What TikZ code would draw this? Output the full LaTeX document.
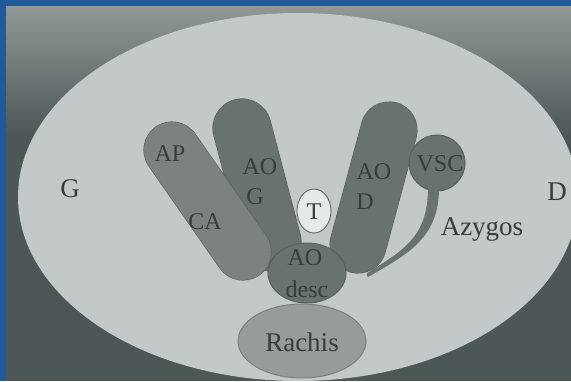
\documentclass[tikz,border=0pt]{standalone}
\usepackage{fontspec}
\setmainfont{Liberation Serif}
\usepackage{xcolor}

\definecolor{frameblue}{RGB}{31,90,154}
\definecolor{photodark}{RGB}{78,87,87}
\definecolor{photolight}{RGB}{145,152,152}
\definecolor{thorax}{RGB}{195,200,200}
\definecolor{vessel}{RGB}{106,113,113}
\definecolor{artery}{RGB}{124,130,130}
\definecolor{spine}{RGB}{150,156,156}
\definecolor{trachea}{RGB}{230,233,233}
\definecolor{rim}{RGB}{90,96,96}
\definecolor{ink}{RGB}{55,60,60}

% rounded tube between two coordinates: colour, width, from, to
\newcommand{\tube}[4]{%
  \draw[line cap=round, rim, line width=#2pt+1.2pt] (#3) -- (#4);
  \draw[line cap=round, #1, line width=#2pt] (#3) -- (#4);}

\begin{document}
\begin{tikzpicture}[
  x=1pt, y=-1pt,
  lab/.style={text=ink, inner sep=0pt, font=\fontsize{24}{26}\selectfont},
  big/.style={lab, font=\fontsize{27}{30}\selectfont},
  organ/.style={fill=vessel, draw=rim, line width=1pt}
]
\useasboundingbox (0,0) rectangle (571,381);
\begin{scope}
\clip (0,0) rectangle (571,381);
\fill[frameblue] (0,0) rectangle (571,381);
\fill[photodark] (6,6) rectangle (571,381);
\shade[top color=photolight, bottom color=photodark] (6,6) rectangle (571,135);

\fill[thorax] (298,197) ellipse [x radius=280pt, y radius=184pt];

\coordinate (aogTop) at (242,128);
\coordinate (aogBot) at (272,242);
\coordinate (apTop) at (172,150);
\coordinate (apBot) at (243,252);
\coordinate (aodTop) at (389,130);
\coordinate (aodBot) at (358,245);

\tube{vessel}{58}{aogTop}{aogBot}
\tube{artery}{56}{apTop}{apBot}
\tube{vessel}{56}{aodTop}{aodBot}

\filldraw[fill=spine, draw=rim!80, line width=1pt] (302,341) ellipse [x radius=64pt, y radius=37pt];
\filldraw[organ] (307,273) ellipse [x radius=39pt, y radius=30pt];
\filldraw[fill=trachea, draw=rim!90, line width=1pt] (314,211) ellipse [x radius=17pt, y radius=22pt];
\filldraw[organ] (437,163) circle [radius=28pt];
\fill[vessel] (439,188) .. controls (439,238) and (408,254) .. (368,277)
  .. controls (366,274) .. (369,272)
  .. controls (404,250) and (428,236) .. (428,188) -- cycle;
\end{scope}

\node[big] (leftSide) at (70,189) {G};
\node[big] (rightSide) at (557,192) {D};
\node[lab] (apText) at (170,154) {AP};
\node[lab] (caText) at (205,222) {CA};
\node[lab] (aogText) at (260,167) {AO};
\node[lab] (aogSide) at (255,197) {G};
\node[lab] (tText) at (314,212) {T};
\node[lab] (aodText) at (374,172) {AO};
\node[lab] (aodSide) at (365,202) {D};
\node[lab] (vscText) at (440,164) {VSC};
\node[big] (azText) at (482,229) {Azygos};
\node[lab] (descText) at (305,258) {AO};
\node[lab] (descSub) at (307,289) {desc};
\node[big] (rachisText) at (302,342) {Rachis};
\end{tikzpicture}
\end{document}
